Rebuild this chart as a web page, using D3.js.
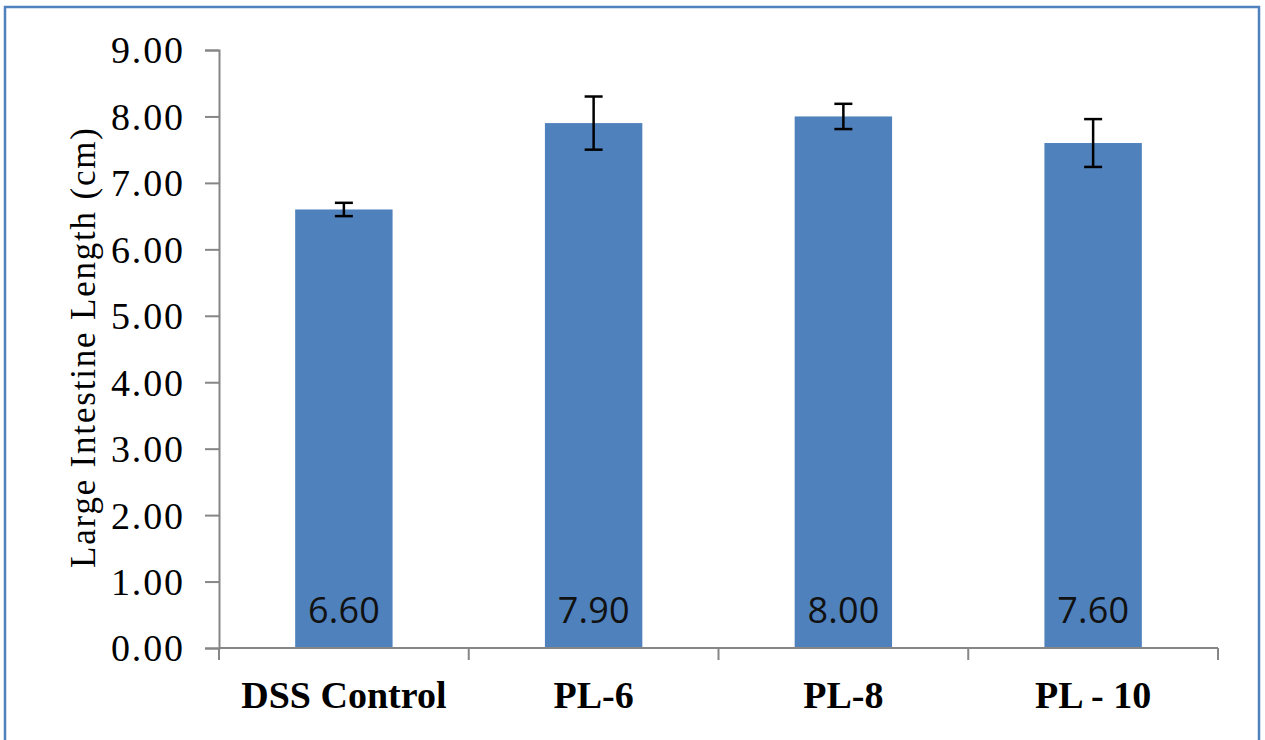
<!DOCTYPE html>
<html>
<head>
<meta charset="utf-8">
<script src="https://cdn.jsdelivr.net/npm/d3@7"></script>
<style>
  body { margin: 0; background: #fff; }
  svg { display: block; }
</style>
</head>
<body>
<script>
const categories = ["DSS Control", "PL-6", "PL-8", "PL - 10"];
const lengths = [6.60, 7.90, 8.00, 7.60];
const errors = [0.10, 0.40, 0.19, 0.36];
const yTicks = [0, 1, 2, 3, 4, 5, 6, 7, 8, 9];

const W = 1265, H = 740;
const margin = { left: 219, right: 47, top: 50, bottom: 92 };

const svg = d3.select("body").append("svg").attr("width", W).attr("height", H);

// chart frame
svg.append("rect")
  .attr("x", 5).attr("y", 7)
  .attr("width", 1254).attr("height", 760)
  .attr("fill", "#fff")
  .attr("stroke", "#4f81bd")
  .attr("stroke-width", 2.5);

const x = d3.scaleBand()
  .domain(categories)
  .range([margin.left, W - margin.right])
  .paddingInner(0.61)
  .paddingOuter(0.305);

const y = d3.scaleLinear().domain([0, 9]).range([H - margin.bottom, margin.top]);

const bars = svg.append("g");
bars.selectAll("rect")
  .data(categories)
  .join("rect")
  .attr("x", d => x(d))
  .attr("y", (d, i) => y(lengths[i]))
  .attr("width", x.bandwidth())
  .attr("height", (d, i) => y(0) - y(lengths[i]))
  .attr("fill", "#4f81bd");

// value labels inside the bars
bars.selectAll("text")
  .data(categories)
  .join("text")
  .attr("x", d => x(d) + x.bandwidth() / 2)
  .attr("y", 623)
  .attr("text-anchor", "middle")
  .attr("font-family", "'Open Sans', sans-serif")
  .attr("font-size", 36)
  .attr("textLength", 72)
  .attr("fill", "#111")
  .text((d, i) => lengths[i].toFixed(2));

// error bars
const eb = svg.append("g").attr("stroke", "#000").attr("stroke-width", 2.5);
categories.forEach((c, i) => {
  const cx = x(c) + x.bandwidth() / 2;
  const top = y(lengths[i] + errors[i]), bot = y(lengths[i] - errors[i]);
  eb.append("line").attr("x1", cx).attr("x2", cx).attr("y1", top).attr("y2", bot);
  eb.append("line").attr("x1", cx - 9).attr("x2", cx + 9).attr("y1", top).attr("y2", top);
  eb.append("line").attr("x1", cx - 9).attr("x2", cx + 9).attr("y1", bot).attr("y2", bot);
});

// y axis
const yAxis = svg.append("g")
  .attr("transform", `translate(${margin.left},0)`)
  .call(d3.axisLeft(y).tickValues(yTicks).tickFormat(d3.format(".2f")).tickSize(14).tickPadding(22));
yAxis.select(".domain").attr("stroke", "#868686").attr("stroke-width", 2);
yAxis.selectAll(".tick line").attr("stroke", "#868686").attr("stroke-width", 2);
yAxis.selectAll(".tick text")
  .attr("font-family", "'Liberation Serif', 'Times New Roman', serif")
  .attr("font-size", 38)
  .attr("textLength", 72)
  .attr("fill", "#000")
  .attr("dy", "0.34em");

// x axis with boundary ticks between categories
const step = x.step();
const bounds = d3.range(categories.length + 1).map(i => margin.left + i * step);
const xAxis = svg.append("g");
xAxis.append("line")
  .attr("x1", margin.left).attr("x2", W - margin.right)
  .attr("y1", y(0)).attr("y2", y(0))
  .attr("stroke", "#868686").attr("stroke-width", 2);
xAxis.selectAll(".bt")
  .data(bounds)
  .join("line")
  .attr("x1", d => d).attr("x2", d => d)
  .attr("y1", y(0)).attr("y2", y(0) + 12)
  .attr("stroke", "#868686").attr("stroke-width", 2);
xAxis.selectAll("text")
  .data(categories)
  .join("text")
  .attr("x", d => x(d) + x.bandwidth() / 2)
  .attr("y", 708)
  .attr("text-anchor", "middle")
  .attr("font-family", "'Liberation Serif', 'Times New Roman', serif")
  .attr("font-weight", "bold")
  .attr("font-size", 38)
  .attr("fill", "#000")
  .text(d => d);

// y axis title
svg.append("text")
  .attr("transform", "translate(95,348) rotate(-90)")
  .attr("text-anchor", "middle")
  .attr("font-family", "'Liberation Serif', 'Times New Roman', serif")
  .attr("font-size", 35)
  .attr("textLength", 440)
  .attr("fill", "#000")
  .text("Large Intestine Length (cm)");
</script>
</body>
</html>
